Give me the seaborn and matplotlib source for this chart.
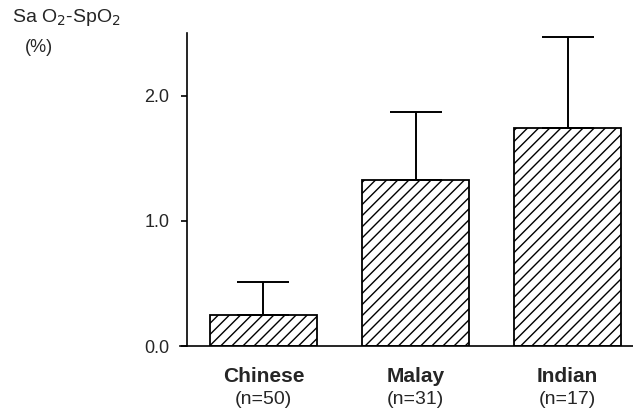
import pandas as pd
import matplotlib
matplotlib.use("Agg")
import matplotlib.pyplot as plt
import seaborn as sns

groups = ["Chinese", "Malay", "Indian"]
n_labels = ["(n=50)", "(n=31)", "(n=17)"]
mean_diff = [0.25, 1.33, 1.74]
sd_upper = [0.26, 0.54, 0.73]

sns.set_theme(style="white")
plt.rcParams["font.family"] = ["Liberation Sans", "DejaVu Sans"]
plt.rcParams["hatch.linewidth"] = 1.0

df = pd.DataFrame({"group": groups, "diff": mean_diff, "sd": sd_upper})

fig = plt.figure(figsize=(6.33, 4.13), dpi=100)
ax = fig.add_axes([0.284, 0.162, 0.716, 0.758])

sns.barplot(data=df, x="group", y="diff", color="white", edgecolor="black",
            linewidth=1.3, width=0.7, errorbar=None, ax=ax)
for p in ax.patches:
    p.set_hatch("///")
    p.set_facecolor("white")
    p.set_edgecolor("black")

# error bars, upper side only
ax.errorbar(range(len(groups)), df["diff"], yerr=[[0] * len(groups), df["sd"]],
            fmt="none", ecolor="black", elinewidth=1.4, capsize=19, capthick=1.4)

# spine position first: it resets the ticks
ax.spines["left"].set_position(("data", -0.5))
ax.spines["right"].set_visible(False)
ax.spines["top"].set_visible(False)
for s in ["left", "bottom"]:
    ax.spines[s].set_linewidth(1.2)
    ax.spines[s].set_color("black")

ax.set_xlim(-0.55, 2.43)
ax.set_ylim(0, 2.5)
ax.set_yticks([0, 1, 2])
ax.set_yticklabels(["0.0", "1.0", "2.0"])
ax.tick_params(axis="y", left=True, length=4, width=1.2, color="black",
               pad=9, labelsize=13)
ax.set_xticks(range(len(groups)))
ax.set_xticklabels(groups, fontweight="bold")
ax.tick_params(axis="x", bottom=False, pad=9, labelsize=15)
ax.set_xlabel("")
ax.set_ylabel("")

# sample sizes under the group names
for i, lab in enumerate(n_labels):
    ax.text(i, -0.43, lab, ha="center", va="center", fontsize=14)

fig.text(12 / 633, 1 - 17 / 413, "Sa O$_2$-SpO$_2$", fontsize=14, va="center", ha="left")
fig.text(25 / 633, 1 - 47 / 413, "(%)", fontsize=13, va="center", ha="left")

fig.savefig("out.png", dpi=100)
